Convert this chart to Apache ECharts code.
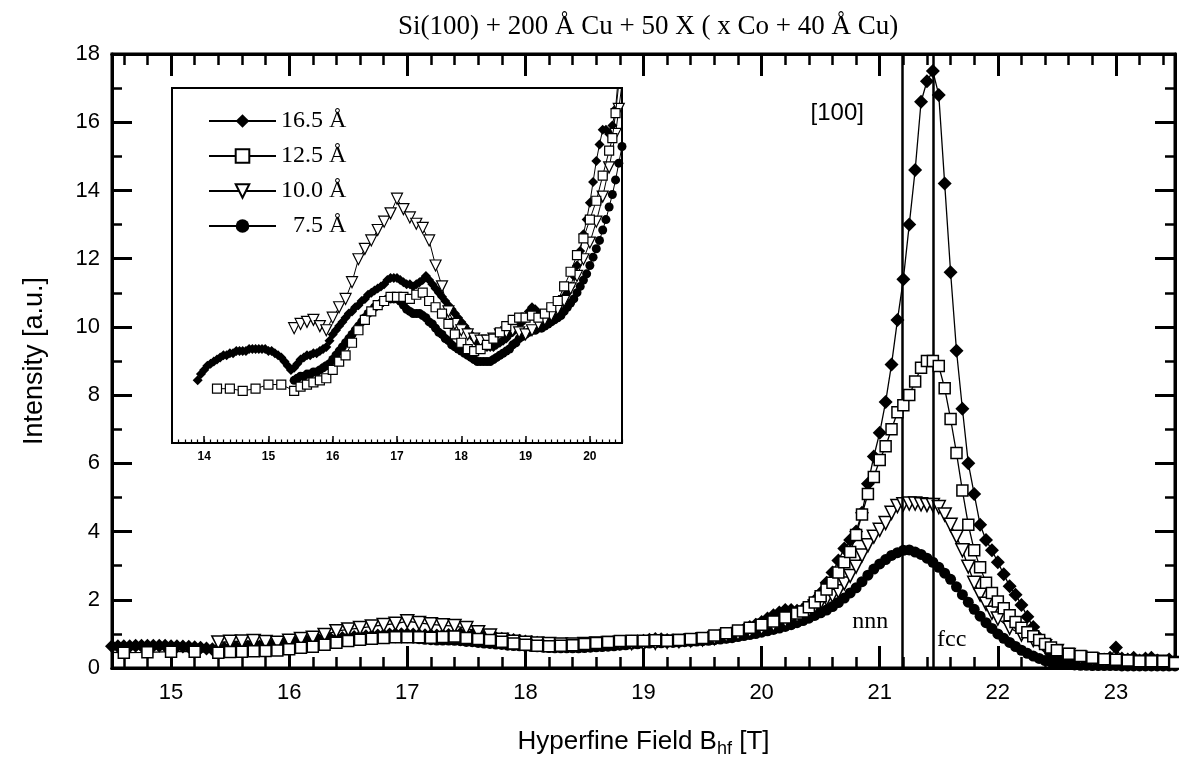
<!DOCTYPE html>
<html><head><meta charset="utf-8">
<script src="https://cdn.jsdelivr.net/npm/echarts@6/dist/echarts.min.js"></script>
<style>html,body{margin:0;padding:0;background:#fff}#c{width:1179px;height:777px}</style>
</head><body><div id="c"></div>
<script>
const titleText = 'Si(100) + 200 Å Cu + 50 X ( x Co + 40 Å Cu)';
const xAxisName = 'Hyperfine Field B';
const yAxisName = 'Intensity [a.u.]';
const seriesNames = ['16.5 Å', '12.5 Å', '10.0 Å', '\u20077.5 Å'];
const xMajorTicks = [15, 16, 17, 18, 19, 20, 21, 22, 23];
const insetMajorTicks = [14, 15, 16, 17, 18, 19, 20];
const refLines = [21.19, 21.45];
const notes = [
  {text: '[100]', x: 20.64, y: 16.27, font: 'Liberation Sans'},
  {text: 'nnn', x: 20.92, y: 1.35, font: 'Liberation Serif'},
  {text: 'fcc', x: 21.61, y: 0.82, font: 'Liberation Serif'}
];

// 16.5 Å (filled diamonds)
const s165 = [[13.90,0.50],[13.95,0.53],[14.00,0.55],[14.05,0.57],[14.10,0.58],[14.15,0.59],[14.20,0.60],[14.25,0.61],[14.30,0.62],[14.35,0.62],[14.40,0.63],[14.45,0.63],[14.50,0.64],[14.55,0.64],[14.60,0.64],[14.65,0.64],[14.70,0.65],[14.75,0.65],[14.80,0.65],[14.85,0.65],[14.90,0.65],[14.95,0.65],[15.00,0.64],[15.05,0.64],[15.10,0.63],[15.15,0.62],[15.20,0.61],[15.25,0.59],[15.30,0.57],[15.35,0.55],[15.40,0.56],[15.45,0.58],[15.50,0.60],[15.55,0.61],[15.60,0.62],[15.65,0.62],[15.70,0.63],[15.75,0.63],[15.80,0.64],[15.85,0.65],[15.90,0.66],[15.95,0.69],[16.00,0.72],[16.05,0.74],[16.10,0.76],[16.15,0.78],[16.20,0.80],[16.25,0.82],[16.30,0.83],[16.35,0.85],[16.40,0.86],[16.45,0.88],[16.50,0.89],[16.55,0.91],[16.60,0.92],[16.65,0.93],[16.70,0.94],[16.75,0.95],[16.80,0.96],[16.85,0.98],[16.90,0.99],[16.95,0.99],[17.00,0.99],[17.05,0.98],[17.10,0.97],[17.15,0.96],[17.20,0.96],[17.25,0.95],[17.30,0.96],[17.35,0.97],[17.40,0.98],[17.45,1.00],[17.50,0.98],[17.55,0.96],[17.60,0.94],[17.65,0.92],[17.70,0.90],[17.75,0.88],[17.80,0.86],[17.85,0.84],[17.90,0.82],[17.95,0.80],[18.00,0.78],[18.05,0.76],[18.10,0.74],[18.15,0.72],[18.20,0.70],[18.25,0.68],[18.30,0.67],[18.35,0.66],[18.40,0.66],[18.45,0.66],[18.50,0.66],[18.55,0.67],[18.60,0.68],[18.65,0.69],[18.70,0.70],[18.75,0.72],[18.80,0.73],[18.85,0.75],[18.90,0.77],[18.95,0.78],[19.00,0.80],[19.05,0.83],[19.10,0.85],[19.15,0.84],[19.20,0.82],[19.25,0.81],[19.30,0.80],[19.35,0.81],[19.40,0.82],[19.45,0.84],[19.50,0.85],[19.55,0.87],[19.60,0.90],[19.65,0.92],[19.70,0.95],[19.75,1.00],[19.80,1.05],[19.85,1.12],[19.90,1.20],[19.95,1.27],[20.00,1.35],[20.05,1.45],[20.10,1.55],[20.15,1.63],[20.20,1.70],[20.25,1.70],[20.30,1.68],[20.35,1.72],[20.40,1.80],[20.45,1.98],[20.50,2.20],[20.55,2.50],[20.60,2.80],[20.65,3.15],[20.70,3.50],[20.75,3.75],[20.80,4.00],[20.85,4.55],[20.90,5.40],[20.95,6.20],[21.00,6.90],[21.05,7.80],[21.10,8.90],[21.15,10.20],[21.20,11.40],[21.25,13.00],[21.30,14.60],[21.35,16.60],[21.40,17.20],[21.45,17.50],[21.50,16.80],[21.55,14.20],[21.60,11.60],[21.65,9.30],[21.70,7.60],[21.75,6.00],[21.80,5.10],[21.85,4.20],[21.90,3.75],[21.95,3.45],[22.00,3.10],[22.05,2.75],[22.10,2.40],[22.15,2.15],[22.20,1.85],[22.25,1.50],[22.30,1.20],[22.35,0.88],[22.40,0.62],[22.45,0.42],[22.50,0.30],[22.55,0.22],[22.60,0.17],[22.65,0.15],[22.70,0.15],[22.75,0.18],[22.80,0.20],[22.85,0.22],[22.90,0.25],[22.95,0.30],[23.00,0.60],[23.05,0.28],[23.10,0.25],[23.15,0.30],[23.20,0.22],[23.25,0.28],[23.30,0.30],[23.35,0.22],[23.40,0.18],[23.45,0.25],[23.50,0.20]];

// 12.5 Å (open squares)
const s125 = [[14.2,0.46],[14.4,0.46],[14.6,0.45],[14.8,0.46],[15.0,0.48],[15.2,0.48],[15.4,0.45],[15.5,0.47],[15.6,0.48],[15.7,0.49],[15.8,0.50],[15.9,0.51],[16.0,0.55],[16.1,0.59],[16.2,0.62],[16.3,0.68],[16.4,0.74],[16.5,0.79],[16.6,0.83],[16.7,0.86],[16.8,0.88],[16.9,0.90],[17.0,0.90],[17.1,0.90],[17.2,0.89],[17.3,0.91],[17.4,0.92],[17.5,0.88],[17.6,0.85],[17.7,0.82],[17.8,0.77],[17.9,0.72],[18.0,0.68],[18.1,0.65],[18.2,0.64],[18.3,0.65],[18.4,0.67],[18.5,0.70],[18.6,0.73],[18.7,0.76],[18.8,0.79],[18.9,0.80],[19.0,0.80],[19.1,0.81],[19.2,0.80],[19.3,0.82],[19.4,0.85],[19.5,0.88],[19.6,0.95],[19.7,1.02],[19.8,1.10],[19.9,1.18],[20.0,1.27],[20.1,1.36],[20.2,1.48],[20.3,1.60],[20.35,1.66],[20.4,1.78],[20.45,1.92],[20.5,2.10],[20.55,2.30],[20.6,2.50],[20.65,2.80],[20.7,3.10],[20.75,3.40],[20.8,3.90],[20.85,4.50],[20.9,5.10],[20.95,5.60],[21.0,6.10],[21.05,6.50],[21.1,7.00],[21.15,7.50],[21.2,7.70],[21.25,8.00],[21.3,8.40],[21.35,8.80],[21.4,9.00],[21.45,9.00],[21.5,8.85],[21.55,8.20],[21.6,7.30],[21.65,6.30],[21.7,5.20],[21.75,4.20],[21.8,3.45],[21.85,2.95],[21.9,2.50],[21.95,2.20],[22.0,1.95],[22.05,1.75],[22.1,1.55],[22.15,1.35],[22.2,1.18],[22.25,1.05],[22.3,0.93],[22.35,0.82],[22.4,0.70],[22.45,0.60],[22.5,0.52],[22.6,0.42],[22.7,0.35],[22.8,0.30],[22.9,0.26],[23.0,0.24],[23.1,0.22],[23.2,0.20],[23.3,0.20],[23.4,0.20],[23.5,0.15]];

// 10.0 Å (open down triangles)
const s100 = [[15.4,0.75],[15.5,0.77],[15.6,0.78],[15.7,0.79],[15.8,0.76],[15.9,0.74],[16.0,0.80],[16.1,0.85],[16.2,0.89],[16.3,0.97],[16.4,1.08],[16.5,1.13],[16.6,1.17],[16.7,1.22],[16.8,1.26],[16.9,1.30],[17.0,1.37],[17.1,1.32],[17.2,1.28],[17.3,1.25],[17.4,1.23],[17.5,1.17],[17.6,1.05],[17.7,0.95],[17.8,0.83],[17.9,0.77],[18.0,0.74],[18.1,0.72],[18.2,0.70],[18.3,0.69],[18.4,0.69],[18.5,0.70],[18.6,0.72],[18.7,0.73],[18.8,0.74],[18.9,0.73],[19.0,0.72],[19.1,0.74],[19.2,0.77],[19.3,0.79],[19.4,0.81],[19.5,0.84],[19.6,0.88],[19.7,0.94],[19.8,1.00],[19.9,1.08],[20.0,1.16],[20.1,1.26],[20.2,1.38],[20.3,1.52],[20.4,1.68],[20.45,1.80],[20.5,1.92],[20.55,2.02],[20.6,2.12],[20.65,2.25],[20.7,2.48],[20.75,2.70],[20.8,2.97],[20.85,3.30],[20.9,3.60],[20.95,3.85],[21.0,4.05],[21.05,4.25],[21.1,4.55],[21.15,4.75],[21.2,4.80],[21.25,4.82],[21.3,4.82],[21.35,4.80],[21.4,4.78],[21.45,4.78],[21.5,4.72],[21.55,4.50],[21.6,4.20],[21.65,3.85],[21.7,3.45],[21.75,2.97],[21.8,2.50],[21.85,2.15],[21.9,1.88],[21.95,1.62],[22.0,1.45],[22.1,1.18],[22.2,0.98],[22.3,0.82],[22.4,0.64],[22.5,0.50],[22.6,0.38],[22.7,0.30],[22.8,0.25],[22.9,0.22],[23.0,0.20],[23.1,0.20],[23.2,0.18],[23.3,0.18],[23.4,0.18],[23.5,0.15]];

// 7.5 Å (filled circles)
const s75 = [[15.40,0.50],[15.45,0.51],[15.50,0.52],[15.55,0.52],[15.60,0.53],[15.65,0.53],[15.70,0.54],[15.75,0.54],[15.80,0.55],[15.85,0.56],[15.90,0.57],[15.95,0.58],[16.00,0.60],[16.05,0.62],[16.10,0.64],[16.15,0.66],[16.20,0.68],[16.25,0.70],[16.30,0.72],[16.35,0.74],[16.40,0.76],[16.45,0.78],[16.50,0.80],[16.55,0.82],[16.60,0.83],[16.65,0.85],[16.70,0.86],[16.75,0.87],[16.80,0.88],[16.85,0.89],[16.90,0.89],[16.95,0.89],[17.00,0.89],[17.05,0.88],[17.10,0.86],[17.15,0.84],[17.20,0.83],[17.25,0.82],[17.30,0.82],[17.35,0.82],[17.40,0.81],[17.45,0.80],[17.50,0.78],[17.55,0.77],[17.60,0.75],[17.65,0.73],[17.70,0.72],[17.75,0.70],[17.80,0.69],[17.85,0.67],[17.90,0.66],[17.95,0.65],[18.00,0.64],[18.05,0.63],[18.10,0.62],[18.15,0.61],[18.20,0.60],[18.25,0.59],[18.30,0.59],[18.35,0.59],[18.40,0.59],[18.45,0.59],[18.50,0.60],[18.55,0.61],[18.60,0.62],[18.65,0.63],[18.70,0.64],[18.75,0.65],[18.80,0.67],[18.85,0.68],[18.90,0.70],[18.95,0.71],[19.00,0.72],[19.05,0.73],[19.10,0.74],[19.15,0.74],[19.20,0.75],[19.25,0.75],[19.30,0.76],[19.35,0.77],[19.40,0.78],[19.45,0.79],[19.50,0.80],[19.55,0.81],[19.60,0.83],[19.65,0.85],[19.70,0.87],[19.75,0.89],[19.80,0.92],[19.85,0.95],[19.90,0.98],[19.95,1.01],[20.00,1.05],[20.05,1.09],[20.10,1.13],[20.15,1.17],[20.20,1.22],[20.25,1.27],[20.30,1.33],[20.35,1.39],[20.40,1.46],[20.45,1.54],[20.50,1.62],[20.55,1.70],[20.60,1.80],[20.65,1.92],[20.70,2.05],[20.75,2.20],[20.80,2.35],[20.85,2.53],[20.90,2.72],[20.95,2.90],[21.00,3.05],[21.05,3.18],[21.10,3.30],[21.15,3.38],[21.20,3.45],[21.25,3.46],[21.30,3.40],[21.35,3.33],[21.40,3.22],[21.45,3.10],[21.50,2.95],[21.55,2.78],[21.60,2.60],[21.65,2.38],[21.70,2.15],[21.75,1.93],[21.80,1.72],[21.85,1.52],[21.90,1.33],[21.95,1.16],[22.00,1.00],[22.05,0.87],[22.10,0.75],[22.15,0.63],[22.20,0.52],[22.25,0.43],[22.30,0.35],[22.35,0.28],[22.40,0.22],[22.45,0.17],[22.50,0.14],[22.55,0.12],[22.60,0.10],[22.65,0.09],[22.70,0.08],[22.75,0.08],[22.80,0.07],[22.85,0.07],[22.90,0.07],[22.95,0.07],[23.00,0.07],[23.05,0.06],[23.10,0.06],[23.15,0.06],[23.20,0.06],[23.25,0.06],[23.30,0.06],[23.35,0.06],[23.40,0.06],[23.45,0.06],[23.50,0.06]];

// minor tick positions (axis decoration only)
const xMinorTicks = [];
for (let k = 0; k <= 44; k++) xMinorTicks.push(+(14.6 + k * 0.2).toFixed(1));
const insetMinorTicks = [];
for (let k = 0; k <= 69; k++) insetMinorTicks.push(+(13.6 + k * 0.1).toFixed(1));

const K = '#000';
const SANS = 'Liberation Sans';
const SERIF = 'Liberation Serif';
const downTri = 'path://M0,0 L12,0 L6,11 Z';

const styles = [
  {data: s165, symbol: 'diamond', fill: K, bw: 0, main: 14, inset: 10, z: 3},
  {data: s125, symbol: 'rect', fill: '#fff', bw: 1.5, main: 11, inset: 9, z: 5},
  {data: s100, symbol: downTri, fill: '#fff', bw: 1.5, main: 13, inset: 11, z: 4},
  {data: s75, symbol: 'circle', fill: K, bw: 0, main: 11, inset: 9, z: 2}
];

const series = [];
styles.forEach((st, i) => {
  series.push({
    type: 'line', name: seriesNames[i], data: st.data, xAxisIndex: 0, yAxisIndex: 0,
    symbol: st.symbol, symbolSize: st.main, showSymbol: true, showAllSymbol: true,
    z: st.z, clip: true, silent: true,
    lineStyle: {color: K, width: 1.3},
    itemStyle: {color: st.fill, borderColor: K, borderWidth: st.bw}
  });
  series.push({
    type: 'line', name: seriesNames[i], data: st.data, xAxisIndex: 4, yAxisIndex: 2,
    symbol: st.symbol, symbolSize: st.inset, showSymbol: true, showAllSymbol: true,
    z: 20 + st.z, clip: true, silent: true,
    lineStyle: {color: K, width: 1},
    itemStyle: {color: st.fill, borderColor: K, borderWidth: st.bw ? 1.2 : 0}
  });
});
// reference lines + annotations
series.push({
  type: 'line', data: [], xAxisIndex: 0, yAxisIndex: 0, silent: true, z: 10,
  markLine: {
    silent: true, symbol: ['none', 'none'], animation: false,
    label: {show: false},
    lineStyle: {color: K, width: 2.5, type: 'solid'},
    data: refLines.map(v => ({xAxis: v}))
  },
  markPoint: {
    silent: true, animation: false, symbol: 'rect', symbolSize: 1,
    itemStyle: {color: 'rgba(0,0,0,0)'},
    data: notes.map(n => ({
      coord: [n.x, n.y],
      label: {show: true, position: 'inside', formatter: n.text, color: K,
        fontFamily: n.font, fontSize: 24}
    }))
  }
});

const mainX = (extra) => Object.assign({
  type: 'value', gridIndex: 0, min: 14.5, max: 23.5,
  splitLine: {show: false},
  axisLine: {show: true, lineStyle: {color: K, width: 3}},
  axisLabel: {show: false}
}, extra);

const option = {
  animation: false,
  backgroundColor: '#fff',
  title: {
    text: titleText, left: 393, top: 8,
    textStyle: {fontFamily: SERIF, fontSize: 27, fontWeight: 'normal', color: K}
  },
  legend: {
    show: true, orient: 'vertical', left: 203, top: 103, z: 60,
    itemWidth: 67, itemHeight: 17, itemGap: 9,
    data: seriesNames,
    textStyle: {fontFamily: SERIF, fontSize: 24, color: K, lineHeight: 26},
    selectedMode: false
  },
  grid: [
    {left: 112, top: 54, width: 1063, height: 614, show: true, borderColor: K, borderWidth: 3, backgroundColor: '#fff'},
    {left: 172, top: 88, width: 450, height: 355, show: true, borderColor: K, borderWidth: 2, backgroundColor: '#fff', z: 15}
  ],
  xAxis: [
    mainX({
      position: 'bottom',
      axisTick: {show: true, inside: true, length: 22, lineStyle: {color: K, width: 3}, customValues: xMajorTicks},
      axisLabel: {show: true, customValues: xMajorTicks, color: K, fontFamily: SANS, fontSize: 22, margin: 14},
      name: '{a|' + xAxisName + '}{b|hf}{a| [T]}', nameLocation: 'middle', nameGap: 58,
      nameTextStyle: {rich: {
        a: {fontFamily: SANS, fontSize: 26, color: K, lineHeight: 32},
        b: {fontFamily: SANS, fontSize: 18, color: K, lineHeight: 17, verticalAlign: 'bottom'}
      }}
    }),
    mainX({position: 'bottom', axisTick: {show: true, inside: true, length: 11, lineStyle: {color: K, width: 2.5}, customValues: xMinorTicks}}),
    mainX({position: 'top', axisTick: {show: true, inside: true, length: 22, lineStyle: {color: K, width: 3}, customValues: xMajorTicks}}),
    mainX({position: 'top', axisTick: {show: true, inside: true, length: 11, lineStyle: {color: K, width: 2.5}, customValues: xMinorTicks}}),
    {
      type: 'value', gridIndex: 1, min: 13.5, max: 20.5, position: 'bottom', z: 30,
      splitLine: {show: false},
      axisLine: {show: true, lineStyle: {color: K, width: 2}},
      axisTick: {show: true, inside: true, length: 7, lineStyle: {color: K, width: 1.5}, customValues: insetMajorTicks},
      axisLabel: {show: true, customValues: insetMajorTicks, color: K, fontFamily: SANS, fontWeight: 'bold', fontSize: 12, margin: 8}
    },
    {
      type: 'value', gridIndex: 1, min: 13.5, max: 20.5, position: 'bottom', z: 30,
      splitLine: {show: false},
      axisLine: {show: false},
      axisTick: {show: true, inside: true, length: 3.5, lineStyle: {color: K, width: 1.2}, customValues: insetMinorTicks},
      axisLabel: {show: false}
    }
  ],
  yAxis: [
    {
      type: 'value', gridIndex: 0, min: 0, max: 18, interval: 2, position: 'left',
      splitLine: {show: false},
      axisLine: {show: true, lineStyle: {color: K, width: 3}},
      axisTick: {show: true, inside: true, length: 20, lineStyle: {color: K, width: 3}},
      minorTick: {show: true, splitNumber: 2, length: 10, lineStyle: {color: K, width: 2.5}},
      axisLabel: {color: K, fontFamily: SANS, fontSize: 22, margin: 12},
      name: yAxisName, nameLocation: 'middle', nameGap: 64, nameRotate: 90,
      nameTextStyle: {fontFamily: SANS, fontSize: 27, color: K}
    },
    {
      type: 'value', gridIndex: 0, min: 0, max: 18, interval: 2, position: 'right',
      splitLine: {show: false},
      axisLine: {show: true, lineStyle: {color: K, width: 3}},
      axisTick: {show: true, inside: true, length: 20, lineStyle: {color: K, width: 3}},
      minorTick: {show: true, splitNumber: 2, length: 10, lineStyle: {color: K, width: 2.5}},
      axisLabel: {show: false}
    },
    {
      type: 'value', gridIndex: 1, min: 0.2, max: 1.9, show: false
    }
  ],
  series: series
};

const chart = echarts.init(document.getElementById('c'), null, {renderer: 'canvas'});
chart.setOption(option);
</script>
</body></html>
